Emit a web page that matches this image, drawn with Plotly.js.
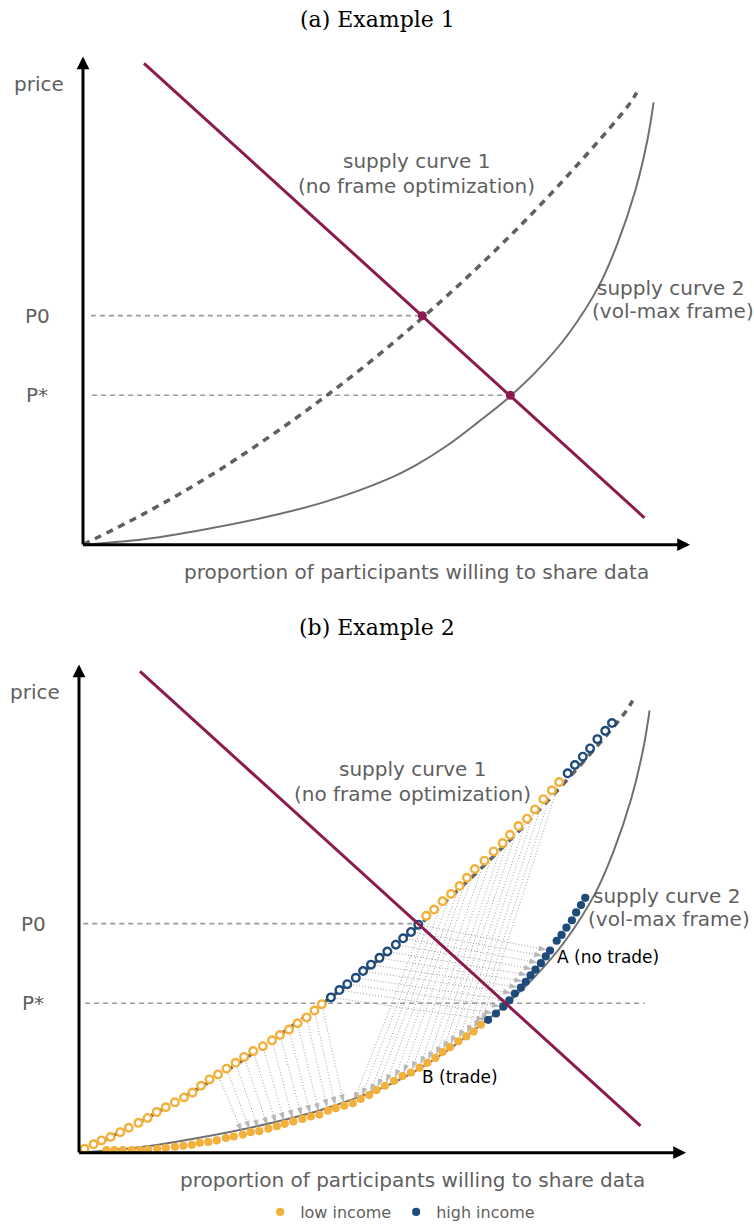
<!DOCTYPE html>
<html>
<head>
<meta charset="utf-8">
<script src="https://cdn.plot.ly/plotly-3.0.1.min.js"></script>
<style>
html, body { margin: 0; padding: 0; background: #fff; }
#chart { width: 754px; height: 1229px; }
</style>
</head>
<body>
<div id="chart"></div>
<script>
// x = proportion of participants willing to share data (0-100), y = price (0-100)

// demand line
const demandX = [10.05, 92.5];
const demandY = [98.6, 5.5];

// equilibrium prices / quantities
const priceP0 = 46.9;
const priceStar = 30.6;
const qtyP0 = 55.9;
const qtyStar = 70.4;

// supply curve 1 (no frame optimization)
const supply1X = [0, 10, 20, 30, 40, 50, 60, 70, 80, 90, 91.2];
const supply1Y = [0, 6.3, 13.4, 21.5, 30.4, 40.2, 51.0, 62.8, 75.8, 90.2, 92.6];

// supply curve 2 (vol-max frame)
const supply2X = [0, 10, 20, 30, 40, 50, 55, 60, 65, 70, 75, 80, 85, 88, 91, 93, 94];
const supply2Y = [0, 1.1, 3.1, 5.6, 8.8, 13.3, 16.4, 20.3, 25.0, 30.0, 35.9, 43.2, 53.0, 61.5, 72.6, 83.0, 90.6];

// example 2: participants on supply curve 1 (open circles), in curve order
const c1LowX = [0.9, 2.4, 3.7, 5.2, 6.8, 8.2, 9.8, 11.3, 12.8, 14.3, 15.8, 17.3, 18.7, 20.1, 21.5, 22.9, 24.3, 25.8, 27.2, 28.7, 30.3, 31.8, 33.1, 34.6, 36.0, 37.5, 38.8, 40.0];
const c1LowY = [0.8, 1.7, 2.5, 3.2, 4.2, 5.1, 6.1, 7.1, 8.3, 9.3, 10.3, 11.3, 12.3, 13.7, 15.0, 16.0, 17.2, 18.4, 19.6, 20.8, 21.8, 23.0, 24.1, 25.2, 26.5, 27.7, 29.1, 30.4];
const c1HighX = [41.5, 42.9, 44.2, 45.6, 46.8, 48.1, 49.5, 50.8, 52.2, 53.4, 54.7, 55.9];
const c1HighY = [31.8, 33.3, 34.5, 35.8, 37.2, 38.5, 39.9, 41.2, 42.6, 43.9, 45.2, 46.7];
const c1Low2X = [57.2, 58.5, 59.9, 61.3, 62.7, 63.9, 65.2, 66.8, 68.3, 69.8, 71.0, 72.4, 73.8, 75.1, 76.5, 77.9, 79.1];
const c1Low2Y = [48.5, 49.8, 51.5, 53.0, 54.6, 56.3, 58.1, 59.8, 61.7, 63.4, 65.1, 66.9, 68.4, 70.3, 72.4, 74.2, 75.9];
const c1High2X = [80.5, 81.7, 83.0, 84.2, 85.4, 86.7, 87.8];
const c1High2Y = [77.7, 79.4, 81.1, 82.8, 84.7, 86.4, 88.0];

// example 2: participants on supply curve 2 (filled dots)
const c2LowX = [4.5, 5.8, 7.2, 8.7, 10.1, 11.4, 12.9, 14.3, 15.8, 17.2, 18.6, 19.9, 21.3, 22.7, 24.2, 25.5, 27.0, 28.3, 29.7, 31.2, 32.6, 33.9, 35.3, 36.8, 38.2, 39.6, 41.0, 42.3, 43.7, 45.1, 46.4, 47.8, 49.0, 50.4, 51.9, 53.3, 54.7, 56.1, 57.4, 58.7, 59.9, 61.1, 62.5, 63.8, 65.0, 66.2];
const c2LowY = [0.5, 0.5, 0.5, 0.5, 0.5, 0.6, 0.8, 1.0, 1.2, 1.4, 1.6, 2.0, 2.2, 2.5, 3.0, 3.3, 3.7, 4.2, 4.4, 4.9, 5.4, 5.9, 6.4, 6.9, 7.4, 7.8, 8.6, 9.1, 9.6, 10.1, 11.0, 11.8, 12.8, 13.7, 14.7, 15.7, 16.4, 17.4, 18.4, 19.4, 20.6, 21.6, 22.8, 23.8, 24.8, 26.2];
const c2HighX = [67.4, 68.7, 69.9, 70.9, 71.8, 72.8, 73.6, 74.4, 75.2, 76.1, 76.9, 77.6, 78.7, 79.5, 80.3, 81.2, 81.9, 82.7, 83.4];
const c2HighY = [27.2, 28.5, 29.9, 31.2, 32.6, 33.8, 35.0, 36.3, 37.5, 38.8, 40.2, 41.4, 43.4, 44.6, 46.1, 47.6, 49.2, 50.7, 52.2];

// moves from curve 1 to curve 2 (indices)
const lowMoveFrom = [15, 16, 17, 18, 19, 20, 21, 22, 23, 24, 25, 26, 27];
const lowMoveTo = [16, 17, 18, 19, 20, 21, 22, 23, 24, 25, 26, 27, 28];
const midMoveFrom = [0, 1, 2, 3, 4, 5, 6, 7, 8, 9, 10, 11, 12, 13, 14, 15, 16];
const midMoveTo = [29, 30, 31, 32, 33, 34, 35, 36, 37, 38, 39, 40, 41, 42, 43, 44, 45];
const highMoveFrom = [0, 1, 2, 3, 4, 5, 6, 7, 8, 9, 10, 11];
const highMoveTo = [0, 1, 2, 3, 4, 5, 6, 7, 8, 9, 10, 11];

const ORANGE = '#f2b03c';
const BLUE = '#1f4b7b';
const MAROON = '#8a1c4d';
const GRAY = '#5f5f5f';
const SANS = 'DejaVu Sans';

function line(x, y, xa, ya, style, shape) {
    return {
        type: 'scatter', mode: 'lines', x: x, y: y, xaxis: xa, yaxis: ya,
        line: Object.assign({ shape: shape || 'linear', smoothing: 1 }, style),
        hoverinfo: 'skip', showlegend: false, cliponaxis: false
    };
}

function arrows(fx, fy, fIdx, tx, ty, tIdx) {
    const x = [], y = [], size = [];
    fIdx.forEach((f, i) => {
        x.push(fx[f], tx[tIdx[i]], null);
        y.push(fy[f], ty[tIdx[i]], null);
        size.push(0, 7, 0);
    });
    return {
        type: 'scatter', mode: 'lines+markers', x: x, y: y, xaxis: 'x2', yaxis: 'y2',
        line: { color: '#a0a0a0', width: 1, dash: '1px,2px' },
        marker: { symbol: 'arrow', size: size, angleref: 'previous', standoff: 4.5, color: '#9a9a9a' },
        hoverinfo: 'skip', showlegend: false, cliponaxis: false, connectgaps: false
    };
}

const guide = { color: '#9a9a9a', width: 1.6, dash: '5px,4px' };
const traces = [];

// ---- (a) Example 1
traces.push(line([1.3, qtyP0], [priceP0, priceP0], 'x', 'y', guide));
traces.push(line([1.5, qtyStar], [priceStar, priceStar], 'x', 'y', guide));
traces.push(line(supply1X, supply1Y, 'x', 'y', { color: GRAY, width: 3.5, dash: '7px,6px' }, 'spline'));
traces.push(line(supply2X, supply2Y, 'x', 'y', { color: '#707070', width: 2 }, 'spline'));
traces.push(line(demandX, demandY, 'x', 'y', { color: MAROON, width: 3 }));
traces.push({
    type: 'scatter', mode: 'markers', x: [qtyP0, qtyStar], y: [priceP0, priceStar],
    xaxis: 'x', yaxis: 'y', marker: { color: MAROON, size: 9 },
    hoverinfo: 'skip', showlegend: false, cliponaxis: false
});

// ---- (b) Example 2
traces.push(line([0.7, 55.2], [priceP0, priceP0], 'x2', 'y2', guide));
traces.push(line([1.0, 93.2], [priceStar, priceStar], 'x2', 'y2', guide));
traces.push(line(supply1X, supply1Y, 'x2', 'y2', { color: GRAY, width: 3.5, dash: '7px,6px' }, 'spline'));
traces.push(line(supply2X, supply2Y, 'x2', 'y2', { color: '#707070', width: 2 }, 'spline'));
traces.push(arrows(c1LowX, c1LowY, lowMoveFrom, c2LowX, c2LowY, lowMoveTo));
traces.push(arrows(c1Low2X, c1Low2Y, midMoveFrom, c2LowX, c2LowY, midMoveTo));
traces.push(arrows(c1HighX, c1HighY, highMoveFrom, c2HighX, c2HighY, highMoveTo));

const openLow = { color: '#fff', size: 7.6, line: { color: ORANGE, width: 2.4 } };
const openHigh = { color: '#fff', size: 7.6, line: { color: BLUE, width: 2.4 } };
traces.push({
    type: 'scatter', mode: 'markers', x: c1LowX.concat(c1Low2X), y: c1LowY.concat(c1Low2Y),
    xaxis: 'x2', yaxis: 'y2', marker: openLow, hoverinfo: 'skip', showlegend: false, cliponaxis: false
});
traces.push({
    type: 'scatter', mode: 'markers', x: c1HighX.concat(c1High2X), y: c1HighY.concat(c1High2Y),
    xaxis: 'x2', yaxis: 'y2', marker: openHigh, hoverinfo: 'skip', showlegend: false, cliponaxis: false
});
traces.push({
    type: 'scatter', mode: 'markers', name: 'low income', x: c2LowX, y: c2LowY,
    xaxis: 'x2', yaxis: 'y2', marker: { color: ORANGE, size: 8.2 }, hoverinfo: 'skip', cliponaxis: false
});
traces.push({
    type: 'scatter', mode: 'markers', name: 'high income', x: c2HighX, y: c2HighY,
    xaxis: 'x2', yaxis: 'y2', marker: { color: BLUE, size: 8.2 }, hoverinfo: 'skip', cliponaxis: false
});
traces.push(line(demandX, demandY, 'x2', 'y2', { color: MAROON, width: 3 }));

// labels
const grayFont = { family: SANS, size: 20, color: GRAY };
function panelLabels(xr, yr) {
    const list = [
        { text: 'price', x: -7.25, y: 94.3 },
        { text: 'P0', x: -7.5, y: priceP0 },
        { text: 'P*', x: -7.5, y: priceStar },
        { text: 'supply curve 1', x: 54.9, y: 78.6 },
        { text: '(no frame optimization)', x: 54.9, y: 73.5 },
        { text: 'supply curve 2', x: 84.3, y: 52.6, xanchor: 'left' },
        { text: '(vol-max frame)', x: 83.5, y: 47.8, xanchor: 'left' },
        { text: 'proportion of participants willing to share data', x: 55, y: -5.6 }
    ];
    return list.map(a => Object.assign({
        xref: xr, yref: yr, showarrow: false, font: grayFont, xanchor: 'center', yanchor: 'middle'
    }, a));
}
function axisArrows(xr, yr) {
    const base = { xref: xr, yref: yr, axref: xr, ayref: yr, text: '', showarrow: true,
        arrowhead: 2, arrowsize: 0.85, arrowwidth: 3, arrowcolor: '#000' };
    return [
        Object.assign({ x: 0, y: 100, ax: 0, ay: -0.3 }, base),
        Object.assign({ x: 100, y: 0, ax: -0.25, ay: 0 }, base)
    ];
}

const titleFont = { family: 'DejaVu Serif', size: 22, color: '#000' };
const annotations = [
    { text: '(a) Example 1', xref: 'paper', yref: 'paper', x: 0.5, y: 0.9837, showarrow: false, font: titleFont, yanchor: 'middle' },
    { text: '(b) Example 2', xref: 'paper', yref: 'paper', x: 0.5, y: 0.4841, showarrow: false, font: titleFont, yanchor: 'middle' },
    { text: 'A (no trade)', xref: 'x2', yref: 'y2', x: 78.4, y: 40.0, xanchor: 'left', yanchor: 'middle', showarrow: false,
      font: { family: SANS, size: 17, color: '#000' } },
    { text: 'B (trade)', xref: 'x2', yref: 'y2', x: 56.1, y: 15.4, xanchor: 'left', yanchor: 'middle', showarrow: false,
      font: { family: SANS, size: 17, color: '#000' } }
].concat(panelLabels('x', 'y'), panelLabels('x2', 'y2'), axisArrows('x', 'y'), axisArrows('x2', 'y2'));

// ranges extend past the drawn axes so the outer labels stay inside them
const xRange = [-13, 105];
const yRange = [-13, 103];
const hidden = { visible: false, fixedrange: true };
const layout = {
    width: 754,
    height: 1229,
    margin: { l: 0, r: 0, t: 0, b: 0 },
    paper_bgcolor: '#fff',
    plot_bgcolor: 'rgba(0,0,0,0)',
    font: { family: SANS },
    xaxis: Object.assign({ range: xRange, domain: [0.005424, 0.955371], anchor: 'y' }, hidden),
    yaxis: Object.assign({ range: yRange, domain: [0.500334, 0.965655], anchor: 'x' }, hidden),
    xaxis2: Object.assign({ range: xRange, domain: [0.000119, 0.950066], anchor: 'y2' }, hidden),
    yaxis2: Object.assign({ range: yRange, domain: [0.000740, 0.466062], anchor: 'x2' }, hidden),
    showlegend: true,
    legend: {
        orientation: 'h', x: 0.345, y: 0.004, xanchor: 'left', yanchor: 'middle',
        font: { family: SANS, size: 16, color: GRAY }, bgcolor: 'rgba(0,0,0,0)', itemsizing: 'trace'
    },
    annotations: annotations
};

Plotly.newPlot('chart', traces, layout, { displayModeBar: false, staticPlot: true });
</script>
</body>
</html>
